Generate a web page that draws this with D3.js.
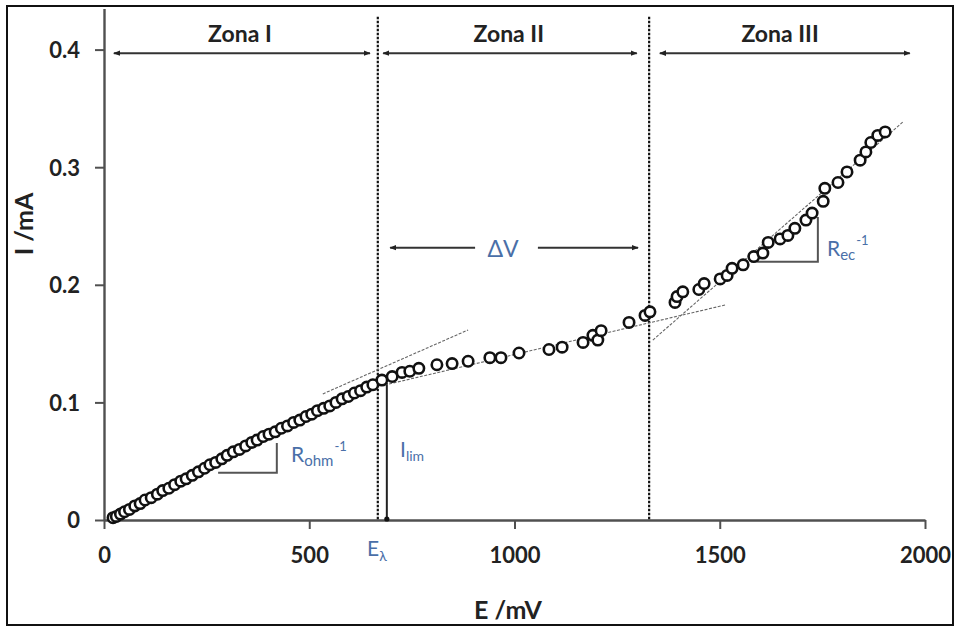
<!DOCTYPE html>
<html>
<head>
<meta charset="utf-8">
<script src="https://cdn.jsdelivr.net/npm/d3@7"></script>
<style>
  html, body { margin: 0; padding: 0; background: #fff; }
  svg { display: block; }
  text { font-family: Lato, "Open Sans", "DejaVu Sans", sans-serif; }
</style>
</head>
<body>
<svg id="chart" width="955" height="627"></svg>
<script>
// ---------------- data ----------------
const potentialZoneI = [22, 30, 40, 50, 62, 75, 88, 100, 115, 130, 143, 158, 172, 187, 200, 215, 230, 245, 258, 272, 287, 300, 315, 330, 345, 360, 373, 388, 402, 417, 432, 447, 462, 477, 492, 506, 520, 535, 550, 565, 580, 595, 610, 625, 640, 655];
const currentZoneI   = [0.002, 0.003, 0.005, 0.007, 0.009, 0.012, 0.014, 0.017, 0.019, 0.022, 0.025, 0.027, 0.030, 0.033, 0.035, 0.038, 0.041, 0.044, 0.047, 0.049, 0.052, 0.055, 0.058, 0.060, 0.063, 0.066, 0.068, 0.071, 0.073, 0.075, 0.078, 0.080, 0.083, 0.085, 0.088, 0.090, 0.093, 0.095, 0.097, 0.100, 0.103, 0.105, 0.108, 0.110, 0.113, 0.115];

const potentialZoneII = [677, 702, 726, 745, 767, 811, 848, 887, 940, 967, 1011, 1084, 1116, 1167, 1191, 1203, 1211, 1279, 1318, 1330];
const currentZoneII   = [0.119, 0.122, 0.1255, 0.1265, 0.129, 0.132, 0.133, 0.135, 0.138, 0.138, 0.142, 0.145, 0.147, 0.151, 0.157, 0.153, 0.161, 0.168, 0.174, 0.177];

const potentialZoneIII = [1391, 1396, 1410, 1449, 1462, 1501, 1518, 1530, 1557, 1583, 1605, 1618, 1647, 1666, 1683, 1710, 1725, 1752, 1756, 1788, 1810, 1842, 1856, 1868, 1885, 1903];
const currentZoneIII   = [0.185, 0.190, 0.194, 0.196, 0.201, 0.205, 0.208, 0.214, 0.217, 0.224, 0.227, 0.236, 0.239, 0.242, 0.248, 0.255, 0.261, 0.271, 0.282, 0.287, 0.296, 0.306, 0.313, 0.321, 0.327, 0.330];

const xTicks = [0, 500, 1000, 1500, 2000];
const yTicks = [0, 0.1, 0.2, 0.3, 0.4];

// zone boundaries (mV) and limiting potential
const zoneBoundaries = [667, 1328];
const eLambda = 689;
const iLim = 0.1165;

// fitted straight lines [E1, I1, E2, I2]
const fitZoneI   = [533, 0.1072, 887, 0.1616];
const fitZoneII  = [684, 0.1148, 1513, 0.1828];
const fitZoneIII = [1337, 0.153, 1946, 0.3384];

// zone arrows [E1, E2] at I = 0.397, labels
const zoneArrows = [[24, 648], [680, 1298], [1354, 1963]];
const zoneLabels = ["Zona I", "Zona II", "Zona III"];
const zoneLabelE = [331, 986, 1647];

// ΔV arrows
const deltaVLeft = [697, 904];
const deltaVRight = [1057, 1301];
const deltaVI = 0.2316;

// slope triangles [E1, E2, Ibase, Itop]
const triOhm = [278, 421, 0.0402, 0.0655];
const triEc  = [1591, 1739, 0.2196, 0.2577];

// ---------------- drawing ----------------
const svg = d3.select("#chart");
const x = d3.scaleLinear().domain([0, 2000]).range([104, 925]);
const y = d3.scaleLinear().domain([0, 0.435]).range([520, 520 - 0.435 * 1176]);

const blue = "#4a6fa8";
const axisColor = "#505050";

// frame
svg.append("rect").attr("x", 7).attr("y", 6).attr("width", 946).attr("height", 619)
  .attr("fill", "none").attr("stroke", "#111").attr("stroke-width", 2);

// arrow markers
const defs = svg.append("defs");
defs.append("marker").attr("id", "arr").attr("viewBox", "0 0 10 10")
  .attr("refX", 9).attr("refY", 5).attr("markerWidth", 7).attr("markerHeight", 7)
  .attr("markerUnits", "userSpaceOnUse").attr("orient", "auto-start-reverse")
  .append("path").attr("d", "M0,1 L10,5 L0,9 Z").attr("fill", "#222");

// axes
const xAxis = d3.axisBottom(x).tickValues(xTicks).tickSize(9).tickSizeOuter(0)
  .tickFormat(d3.format("d"));
const gx = svg.append("g").attr("transform", `translate(0,${y(0)})`).call(xAxis);
const yAxis = d3.axisLeft(y).tickValues(yTicks).tickSize(9).tickSizeOuter(0)
  .tickFormat(d => d === 0 ? "0" : d3.format(".1f")(d));
const gy = svg.append("g").attr("transform", `translate(${x(0)},0)`).call(yAxis);

[gx, gy].forEach(g => {
  g.select(".domain").attr("stroke", axisColor).attr("stroke-width", 2.4);
  g.selectAll(".tick line").attr("stroke", axisColor).attr("stroke-width", 2);
  g.selectAll(".tick text").attr("fill", "#222").attr("font-size", 22)
    .attr("font-weight", "bold").attr("font-family", "Lato, sans-serif");
});
gx.selectAll(".tick text").attr("dy", null).attr("y", 43);
gy.selectAll(".tick text").attr("x", -24).attr("dy", "0.36em");

// axis titles
svg.append("text").attr("x", 508).attr("y", 619).attr("text-anchor", "middle")
  .attr("font-size", 25).attr("font-weight", "bold").attr("fill", "#222").text("E /mV");
svg.append("text").attr("transform", "translate(33,224) rotate(-90)").attr("text-anchor", "middle")
  .attr("font-size", 25).attr("font-weight", "bold").attr("fill", "#222").text("I /mA");

// zone boundaries (dotted)
svg.selectAll(".bound").data(zoneBoundaries).enter().append("line")
  .attr("x1", d => x(d)).attr("x2", d => x(d)).attr("y1", y(0.428)).attr("y2", y(0))
  .attr("stroke", "#111").attr("stroke-width", 2.2).attr("stroke-dasharray", "2.5,1.5");

// I_lim line
svg.append("line").attr("x1", x(eLambda)).attr("x2", x(eLambda)).attr("y1", y(iLim)).attr("y2", y(0))
  .attr("stroke", "#222").attr("stroke-width", 2);
svg.append("circle").attr("cx", x(eLambda)).attr("cy", y(0) - 1).attr("r", 2.6).attr("fill", "#111");

// fitted lines
[fitZoneI, fitZoneII, fitZoneIII].forEach(f => {
  svg.append("line").attr("x1", x(f[0])).attr("y1", y(f[1])).attr("x2", x(f[2])).attr("y2", y(f[3]))
    .attr("stroke", "#666").attr("stroke-width", 1.1).attr("stroke-dasharray", "3,1.5");
});

// slope triangles
[triOhm, triEc].forEach(t => {
  svg.append("path")
    .attr("d", `M${x(t[0])},${y(t[2])} L${x(t[1])},${y(t[2])} L${x(t[1])},${y(t[3])}`)
    .attr("fill", "none").attr("stroke", "#555").attr("stroke-width", 2);
});

// data points
const pts = [];
potentialZoneI.forEach((e, i) => pts.push([e, currentZoneI[i]]));
potentialZoneII.forEach((e, i) => pts.push([e, currentZoneII[i]]));
potentialZoneIII.forEach((e, i) => pts.push([e, currentZoneIII[i]]));
svg.append("g").selectAll("circle").data(pts).enter().append("circle")
  .attr("cx", d => x(d[0])).attr("cy", d => y(d[1])).attr("r", 5.2)
  .attr("fill", "#fff").attr("stroke", "#111").attr("stroke-width", 2.6);

// zone arrows and labels
zoneArrows.forEach((a, i) => {
  svg.append("line").attr("x1", x(a[0])).attr("x2", x(a[1])).attr("y1", y(0.397)).attr("y2", y(0.397))
    .attr("stroke", "#333").attr("stroke-width", 2)
    .attr("marker-start", "url(#arr)").attr("marker-end", "url(#arr)");
  svg.append("text").attr("x", x(zoneLabelE[i])).attr("y", 42).attr("text-anchor", "middle")
    .attr("font-size", 23).attr("font-weight", "bold").attr("fill", "#222").text(zoneLabels[i]);
});

// ΔV
svg.append("line").attr("x1", x(deltaVLeft[1])).attr("x2", x(deltaVLeft[0])).attr("y1", y(deltaVI)).attr("y2", y(deltaVI))
  .attr("stroke", "#333").attr("stroke-width", 2).attr("marker-end", "url(#arr)");
svg.append("line").attr("x1", x(deltaVRight[0])).attr("x2", x(deltaVRight[1])).attr("y1", y(deltaVI)).attr("y2", y(deltaVI))
  .attr("stroke", "#333").attr("stroke-width", 2).attr("marker-end", "url(#arr)");
svg.append("text").attr("x", 503).attr("y", 257).attr("text-anchor", "middle")
  .attr("font-size", 23).attr("fill", blue).text("ΔV");

// E_lambda
const tE = svg.append("text").attr("x", 367).attr("y", 556).attr("font-size", 21).attr("fill", blue);
tE.append("tspan").text("E");
tE.append("tspan").attr("font-size", 14).attr("dy", 5).text("λ");

// I_lim
const tI = svg.append("text").attr("x", 400).attr("y", 457).attr("font-size", 21).attr("fill", blue);
tI.append("tspan").text("I");
tI.append("tspan").attr("font-size", 14).attr("dy", 4).text("lim");

// R_ohm^-1
const tR = svg.append("text").attr("x", 291).attr("y", 462).attr("font-size", 21).attr("fill", blue);
tR.append("tspan").text("R");
tR.append("tspan").attr("font-size", 15).attr("dy", 4).text("ohm");
tR.append("tspan").attr("font-size", 13).attr("dy", -15).attr("dx", 1).text("-1");

// R_ec^-1
const tR2 = svg.append("text").attr("x", 827).attr("y", 256).attr("font-size", 21).attr("fill", blue);
tR2.append("tspan").text("R");
tR2.append("tspan").attr("font-size", 15).attr("dy", 4).text("ec");
tR2.append("tspan").attr("font-size", 13).attr("dy", -15).attr("dx", 1).text("-1");
</script>
</body>
</html>
